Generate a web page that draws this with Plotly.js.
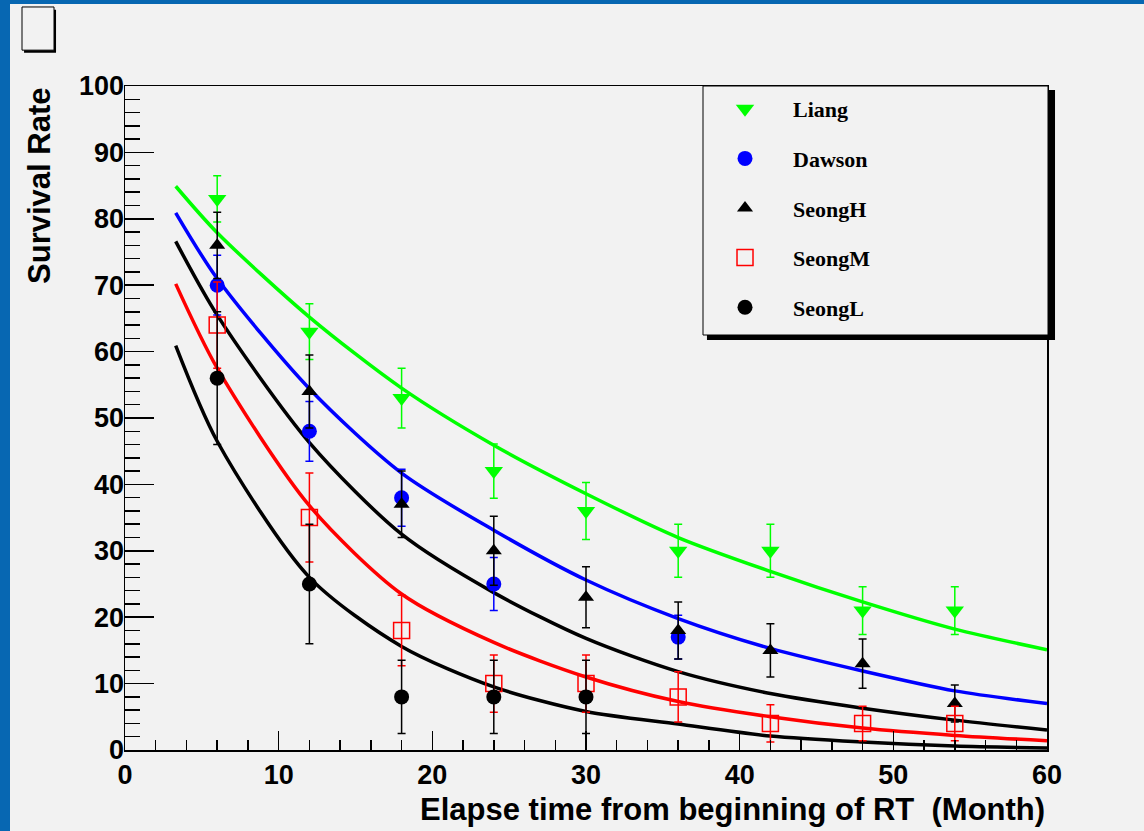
<!DOCTYPE html>
<html>
<head>
<meta charset="utf-8">
<script src="https://cdn.plot.ly/plotly-3.0.1.min.js"></script>
<style>
  html, body { margin: 0; padding: 0; background: #0767b2; width: 1144px; height: 831px; overflow: hidden; }
  #plot { position: absolute; left: 10px; top: 4px; width: 1134px; height: 827px; background: #f2f2f2; }
</style>
</head>
<body>
<div id="plot"></div>
<script>
// ---- data ----
const seriesNames = ["Liang", "Dawson", "SeongH", "SeongM", "SeongL"];

const liangMonths = [6, 12, 18, 24, 30, 36, 42, 48, 54];
const liangRate   = [83, 63, 53, 42, 36, 30, 30, 21, 21];
const liangErr    = [3.5, 4.2, 4.5, 4.1, 4.3, 4.0, 4.0, 3.6, 3.6];

const dawsonMonths = [6, 12, 18, 24, 36];
const dawsonRate   = [70, 48, 38, 25, 17];
const dawsonErr    = [4.5, 4.5, 4.3, 4.0, 3.3];

const seongHMonths = [6, 12, 18, 24, 30, 36, 42, 48, 54];
const seongHRate   = [76, 54, 37, 30, 23, 18, 15, 13, 7];
const seongHErr    = [5.0, 5.5, 5.0, 5.2, 4.6, 4.3, 4.0, 3.7, 2.8];

const seongMMonths = [6, 12, 18, 24, 30, 36, 42, 48, 54];
const seongMRate   = [64, 35, 18, 10, 10, 8, 4, 4, 4];
const seongMErr    = [6.5, 6.7, 5.3, 4.3, 4.3, 3.8, 2.8, 2.6, 2.6];

const seongLMonths = [6, 12, 18, 24, 30];
const seongLRate   = [56, 25, 8, 8, 8];
const seongLErr    = [10, 9, 5.5, 5.5, 5.5];

// fitted curves
const fitMonths = [3.3, 6, 12, 18, 24, 30, 36, 42, 48, 54, 60];
const liangFit  = [84.9, 77.9, 65.2, 54.5, 45.9, 38.6, 32.0, 26.9, 22.3, 18.2, 15.1];
const dawsonFit = [80.9, 71.0, 54.4, 41.7, 33.1, 25.6, 19.8, 15.3, 11.9, 8.9, 7.0];
const seongHFit = [76.6, 65.5, 46.3, 32.5, 23.7, 16.8, 11.8, 8.5, 6.3, 4.5, 3.0];
const seongMFit = [70.2, 57.5, 36.8, 23.5, 16.2, 11.0, 7.3, 5.0, 3.3, 2.2, 1.4];
const seongLFit = [60.9, 46.5, 26.0, 15.6, 9.5, 5.8, 3.9, 2.1, 1.2, 0.6, 0.3];

const xTitle = "Elapse time from beginning of RT  (Month)";
const yTitle = "Survival Rate";

// ---- build traces ----
function fitTrace(y, color) {
  return { x: fitMonths, y: y, type: "scatter", mode: "lines",
    line: { color: color, width: 3.5, shape: "spline", smoothing: 0.8 },
    showlegend: false, hoverinfo: "skip" };
}
function pointTrace(name, x, y, e, color, symbol, size, group) {
  const open = symbol.indexOf("open") >= 0;
  return { x: x, y: y, name: name, type: "scatter", mode: "markers",
    legendgroup: group,
    marker: { symbol: symbol, size: size, color: color,
      line: { color: color, width: open ? 1.5 : 0 } },
    error_y: { type: "data", array: e, visible: true, color: color, thickness: 1.5, width: 4 } };
}

const data = [
  fitTrace(liangFit, "#00ff00"),
  fitTrace(dawsonFit, "#0000ff"),
  fitTrace(seongHFit, "#000000"),
  fitTrace(seongMFit, "#ff0000"),
  fitTrace(seongLFit, "#000000"),
  pointTrace(seriesNames[0], liangMonths, liangRate, liangErr, "#00ff00", "triangle-down", 16, "g1"),
  pointTrace(seriesNames[1], dawsonMonths, dawsonRate, dawsonErr, "#0000ff", "circle", 15, "g2"),
  pointTrace(seriesNames[2], seongHMonths, seongHRate, seongHErr, "#000000", "triangle-up", 14, "g3"),
  pointTrace(seriesNames[3], seongMMonths, seongMRate, seongMErr, "#ff0000", "square-open", 16, "g4"),
  pointTrace(seriesNames[4], seongLMonths, seongLRate, seongLErr, "#000000", "circle", 15, "g5")
];

const tickFont = { family: "Liberation Sans, Arial, sans-serif", size: 27, color: "#000", weight: "bold" };
const titleFont = { family: "Liberation Sans, Arial, sans-serif", size: 31, color: "#000", weight: "bold" };

const layout = {
  width: 1134, height: 827,
  margin: { l: 115, r: 97, t: 82, b: 81 },
  paper_bgcolor: "#f2f2f2",
  plot_bgcolor: "#f2f2f2",
  showlegend: true,
  xaxis: {
    range: [0, 60], dtick: 10, tick0: 0,
    ticks: "inside", ticklen: 19, tickwidth: 1.5, tickcolor: "#000",
    minor: { dtick: 2, ticks: "inside", ticklen: 10, tickwidth: 1.5, tickcolor: "#000" },
    showline: true, mirror: true, linecolor: "#000", linewidth: 1.5,
    showgrid: false, zeroline: false,
    tickfont: tickFont, ticklabelstandoff: 0
  },
  yaxis: {
    range: [0, 100], dtick: 10, tick0: 0,
    ticks: "inside", ticklen: 29, tickwidth: 1.5, tickcolor: "#000",
    minor: { dtick: 2, ticks: "inside", ticklen: 15, tickwidth: 1.5, tickcolor: "#000" },
    showline: true, mirror: true, linecolor: "#000", linewidth: 1.5,
    showgrid: false, zeroline: false,
    tickfont: tickFont, ticklabelstandoff: -6
  },
  legend: {
    x: 0.6204, y: 0.997, xanchor: "left", yanchor: "top",
    bgcolor: "rgba(0,0,0,0)", borderwidth: 0,
    traceorder: "grouped", tracegroupgap: 18, itemwidth: 86,
    font: { family: "Liberation Serif, Times New Roman, serif", size: 22, color: "#000", weight: "bold" }
  },
  shapes: [
    // legend shadow + box
    { type: "rect", xref: "paper", yref: "paper", x0: 0.6312, x1: 1.0087, y0: 0.6175, y1: 0.994,
      fillcolor: "#000", line: { width: 0 }, layer: "above" },
    { type: "rect", xref: "paper", yref: "paper", x0: 0.6269, x1: 1.0011, y0: 0.625, y1: 1.0,
      fillcolor: "#f2f2f2", line: { color: "#000", width: 1 }, layer: "above" },
    // small empty title box with shadow (top-left)
    { type: "rect", xref: "paper", yref: "paper", x0: -0.1095, x1: -0.0748, y0: 1.050, y1: 1.115,
      fillcolor: "#000", line: { width: 0 }, layer: "above" },
    { type: "rect", xref: "paper", yref: "paper", x0: -0.1117, x1: -0.0770, y0: 1.054, y1: 1.119,
      fillcolor: "#f2f2f2", line: { color: "#000", width: 1 }, layer: "above" }
  ],
  annotations: [
    { text: xTitle, xref: "paper", yref: "paper", x: 1.0, y: -0.09, xanchor: "right", yanchor: "middle",
      showarrow: false, font: titleFont },
    { text: yTitle, xref: "paper", yref: "paper", x: -0.0933, y: 1.0, xanchor: "center", yanchor: "top",
      textangle: -90, showarrow: false, font: titleFont }
  ]
};

Plotly.newPlot("plot", data, layout, { staticPlot: true, displayModeBar: false });
</script>
</body>
</html>
